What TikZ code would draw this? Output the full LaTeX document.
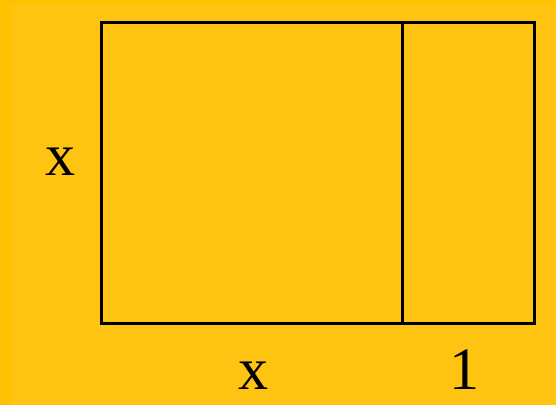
\documentclass[tikz,border=0pt]{standalone}
\usepackage{fontspec}
\setmainfont{Liberation Serif}
\definecolor{outerbg}{HTML}{FFC200}
\definecolor{innerbg}{HTML}{FFC312}
\begin{document}
\begin{tikzpicture}[x=1pt,y=-1pt,
  edge/.style={line width=3pt, black},
  lbl/.style={inner sep=0pt, anchor=base, font=\fontsize{60}{60}\selectfont}]
\useasboundingbox (0,0) rectangle (556,405);
\fill[outerbg] (0,0) rectangle (556,405);
\fill[innerbg] (11,5) rectangle (556,405);
\coordinate (tl) at (101,22);
\coordinate (tm) at (402,22);
\coordinate (tr) at (534,22);
\coordinate (br) at (534,323);
\coordinate (bm) at (402,323);
\coordinate (bl) at (101,323);
\draw[edge] (tl) -- (tr) -- (br) -- (bl) -- cycle;
\draw[edge] (tm) -- (bm);
\node[lbl] (xl) at (60,175) {x};
\node[lbl] (xb) at (253,389) {x};
\node[lbl] (one) at (464,389) {1};
\end{tikzpicture}
\end{document}
